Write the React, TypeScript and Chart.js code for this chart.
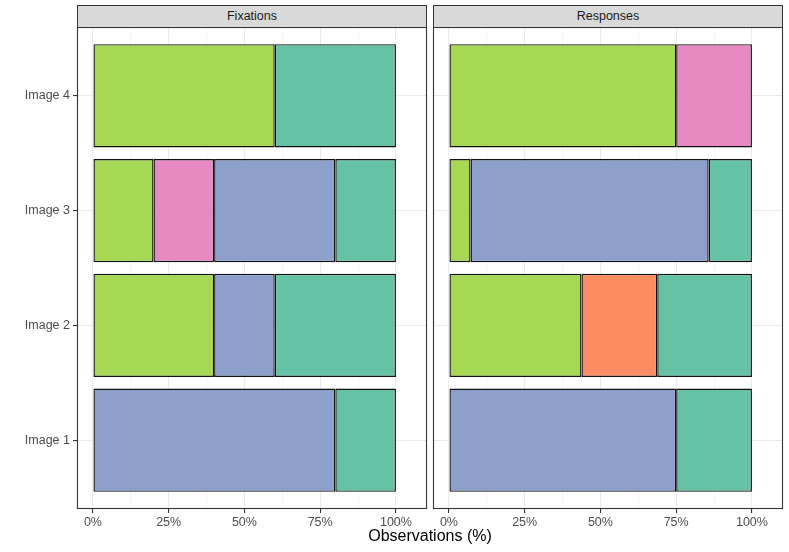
import React, { useEffect, useRef } from "react";
import { Chart, registerables } from "chart.js";

Chart.register(...registerables);

// ---- data ----
const categories = ["Image 1", "Image 2", "Image 3", "Image 4"];
const panels = ["Fixations", "Responses"];
const seriesNames = ["green", "pink", "blue", "orange", "teal"];
const seriesColors = ["#A6D854", "#E78AC3", "#8DA0CB", "#FC8D62", "#66C2A5"];

// values per series, per category (Image 1..4), in %
const fixGreen = [0, 40, 20, 60];
const fixPink = [0, 0, 20, 0];
const fixBlue = [80, 20, 40, 0];
const fixOrange = [0, 0, 0, 0];
const fixTeal = [20, 40, 20, 40];

const respGreen = [0, 43.75, 7.14, 75];
const respPink = [0, 0, 0, 25];
const respBlue = [75, 0, 78.57, 0];
const respOrange = [0, 25, 0, 0];
const respTeal = [25, 31.25, 14.29, 0];

const majorTicks = [0, 25, 50, 75, 100];
const allXTicks = [0, 12.5, 25, 37.5, 50, 62.5, 75, 87.5, 100];
const xTickLabels = ["0%", "25%", "50%", "75%", "100%"];
const xTitle = "Observations (%)";

const FONT = "'Liberation Sans', Arial, Helvetica, sans-serif";

const panelBorder = {
  id: "panelBorder",
  afterDraw(chart: any) {
    const { ctx, chartArea } = chart;
    ctx.save();
    ctx.strokeStyle = "#333333";
    ctx.lineWidth = 1.1;
    ctx.strokeRect(
      Math.round(chartArea.left) + 0.5,
      Math.round(chartArea.top) + 0.5,
      Math.round(chartArea.right - chartArea.left) - 1,
      Math.round(chartArea.bottom - chartArea.top) - 1
    );
    ctx.restore();
  },
};

function buildChart(canvas: HTMLCanvasElement, series: number[][], showY: boolean, padRight: number) {
  const datasets = series.map((vals, si) => ({
    label: seriesNames[si],
    data: vals.map((v, ci) => ({ x: v, y: ci + 1 })).filter((d) => d.x > 0),
    backgroundColor: seriesColors[si],
    borderColor: "#111111",
    borderWidth: 1.4,
    borderSkipped: false as any,
    barPercentage: 0.9,
    categoryPercentage: 1.0,
  }));
  return new Chart(canvas, {
    type: "bar",
    data: { datasets },
    plugins: [panelBorder],
    options: {
      indexAxis: "y",
      animation: false,
      responsive: false,
      maintainAspectRatio: false,
      layout: { padding: { top: 0, right: padRight, bottom: 0, left: 0 } },
      plugins: { legend: { display: false }, tooltip: { enabled: false }, title: { display: false } },
      scales: {
        x: {
          type: "linear",
          stacked: true,
          offset: false,
          min: -5.25,
          max: 110.25,
          afterBuildTicks: (scale: any) => {
            scale.ticks = allXTicks.map((v) => ({ value: v }));
          },
          afterFit: (scale: any) => {
            scale.height = 43;
            scale.paddingLeft = 0;
            scale.paddingRight = 0;
          },
          border: { display: false },
          grid: {
            offset: false,
            color: (ctx: any) => (majorTicks.includes(ctx.tick?.value) ? "#EBEBEB" : "#F4F4F4"),
            lineWidth: (ctx: any) => (majorTicks.includes(ctx.tick?.value) ? 1.1 : 0.8),
            tickColor: (ctx: any) => (majorTicks.includes(ctx.tick?.value) ? "#333333" : "rgba(0,0,0,0)"),
            tickLength: 4,
            drawTicks: true,
          },
          ticks: {
            autoSkip: false,
            maxRotation: 0,
            padding: 2,
            color: "#4D4D4D",
            font: { family: FONT, size: 12.5 },
            callback: (v: any) => {
              const i = majorTicks.indexOf(Number(v));
              return i >= 0 ? xTickLabels[i] : "";
            },
          },
        },
        y: {
          type: "linear",
          stacked: true,
          offset: false,
          min: 0.4,
          max: 4.6,
          afterBuildTicks: (scale: any) => {
            scale.ticks = categories.map((_, i) => ({ value: i + 1 }));
          },
          afterFit: (scale: any) => {
            scale.width = showY ? 77 : 3;
            scale.paddingTop = 0;
            scale.paddingBottom = 0;
          },
          border: { display: false },
          grid: {
            offset: false,
            color: "#EBEBEB",
            lineWidth: 1.1,
            tickColor: "#333333",
            tickLength: 4,
            drawTicks: showY,
          },
          ticks: {
            display: showY,
            autoSkip: false,
            padding: 3,
            color: "#4D4D4D",
            font: { family: FONT, size: 12.5 },
            callback: (v: any) => categories[Math.round(Number(v)) - 1] ?? "",
          },
        },
      },
    },
  });
}

export default function App() {
  const leftRef = useRef<HTMLCanvasElement>(null);
  const rightRef = useRef<HTMLCanvasElement>(null);

  useEffect(() => {
    document.body.style.margin = "0";
    const c1 = buildChart(
      leftRef.current!,
      [fixGreen, fixPink, fixBlue, fixOrange, fixTeal],
      true,
      3
    );
    const c2 = buildChart(
      rightRef.current!,
      [respGreen, respPink, respBlue, respOrange, respTeal],
      false,
      6
    );
    return () => {
      c1.destroy();
      c2.destroy();
    };
  }, []);

  const stripStyle = (left: number, width: number): React.CSSProperties => ({
    position: "absolute",
    left,
    top: 5,
    width,
    height: 23,
    background: "#D9D9D9",
    border: "1px solid #333333",
    boxSizing: "border-box",
    color: "#1A1A1A",
    fontFamily: FONT,
    fontSize: 12.5,
    lineHeight: "21px",
    textAlign: "center",
  });

  return (
    <div style={{ position: "relative", width: 789, height: 552, background: "#fff", overflow: "hidden" }}>
      <div style={stripStyle(77, 350)}>{panels[0]}</div>
      <div style={stripStyle(433, 350)}>{panels[1]}</div>
      <canvas
        ref={leftRef}
        width={430}
        height={525}
        style={{ position: "absolute", left: 0, top: 27, width: 430, height: 525 }}
      />
      <canvas
        ref={rightRef}
        width={359}
        height={525}
        style={{ position: "absolute", left: 430, top: 27, width: 359, height: 525 }}
      />
      <div
        style={{
          position: "absolute",
          left: 77,
          width: 706,
          top: 527,
          textAlign: "center",
          fontFamily: FONT,
          fontSize: 16,
          color: "#000",
        }}
      >
        {xTitle}
      </div>
    </div>
  );
}
